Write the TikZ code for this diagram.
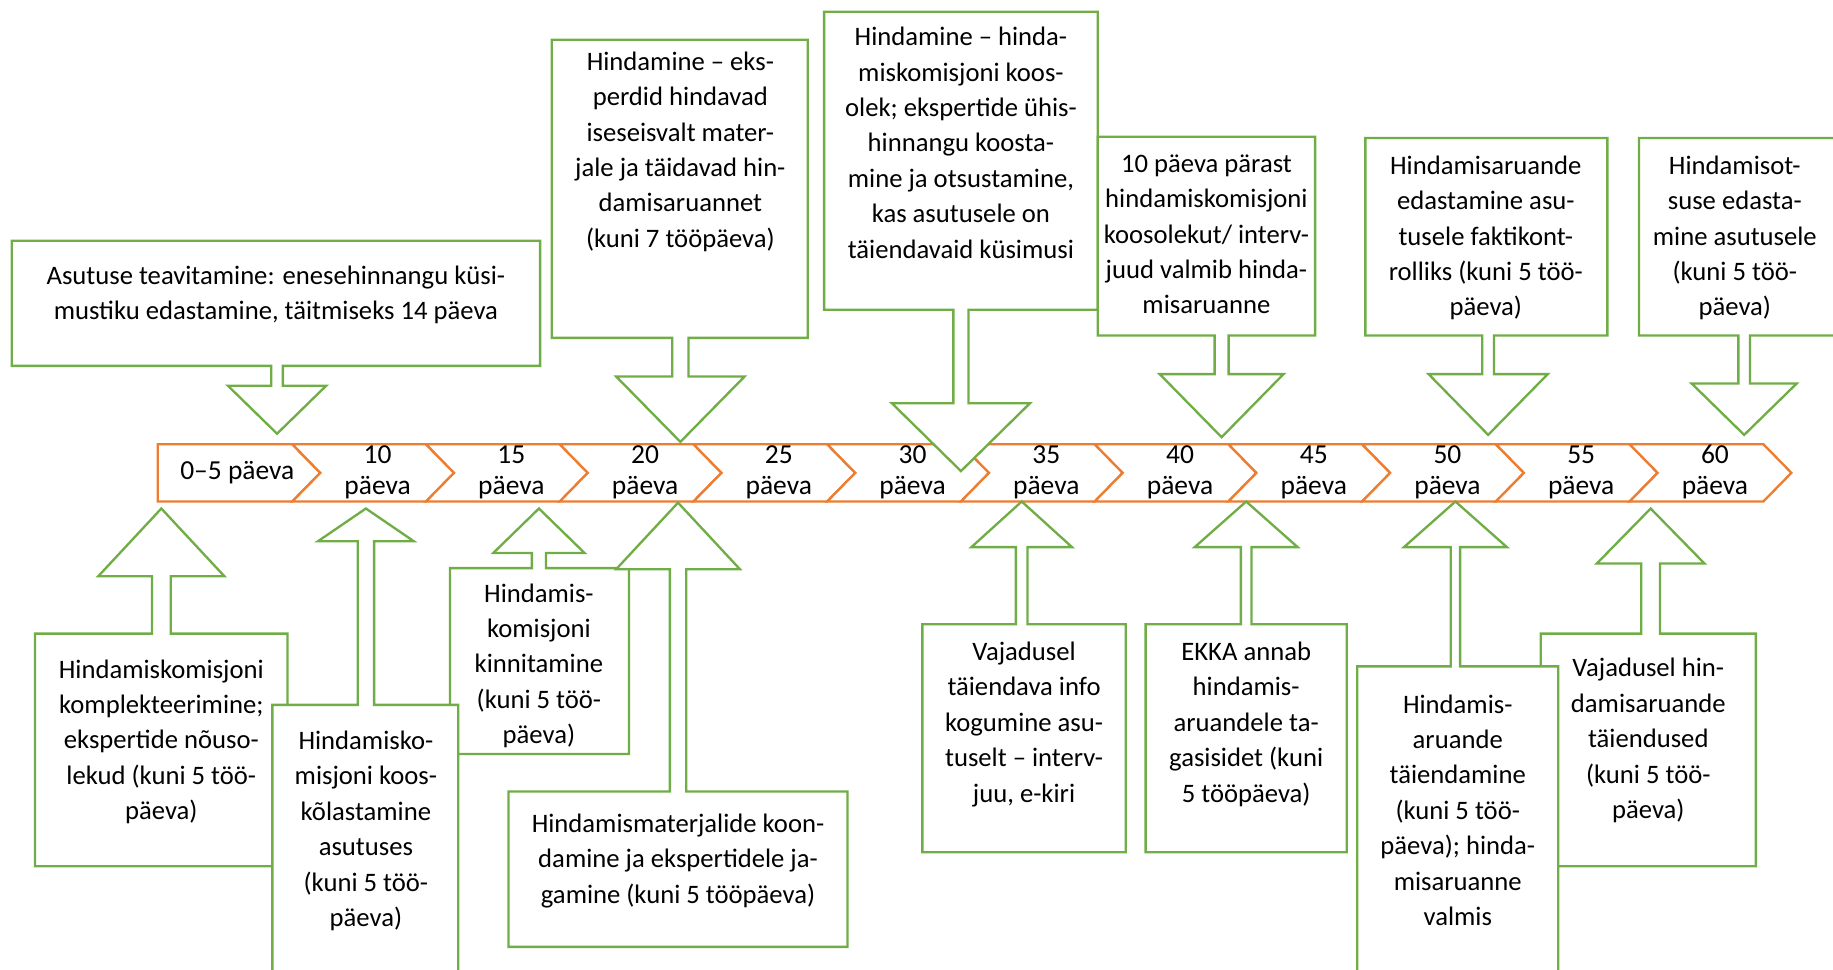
\documentclass[tikz,border=0pt]{standalone}
\usepackage{fontspec}
\setmainfont{Carlito}
\usepackage{tikz}
\usepackage{xcolor}

\definecolor{kastroheline}{HTML}{70AD47}
\definecolor{teljeoranz}{HTML}{ED7D31}

% box (x1,y1)-(x2,y2), tip (#5,#6), head base #7, stem and head half width #8, #9
\newcommand{\calldown}[9]{%
  \draw[callout] (#1,#2) -- (#3,#2) -- (#3,#4) -- ({#5+#8},#4) -- ({#5+#8},#7) -- ({#5+#9},#7)
    -- (#5,#6) -- ({#5-#9},#7) -- ({#5-#8},#7) -- ({#5-#8},#4) -- (#1,#4) -- cycle;}
\newcommand{\callup}[9]{%
  \draw[callout] (#1,#2) -- ({#5-#8},#2) -- ({#5-#8},#7) -- ({#5-#9},#7) -- (#5,#6)
    -- ({#5+#9},#7) -- ({#5+#8},#7) -- ({#5+#8},#2) -- (#3,#2) -- (#3,#4) -- (#1,#4) -- cycle;}

\tikzset{
  callout/.style={draw=kastroheline, line width=2pt, fill=white},
  chevron/.style={draw=teljeoranz, line width=2pt, fill=white},
  tekst/.style={font=\fontsize{22.8}{30.3}\selectfont, align=center, inner sep=0pt,
    anchor=north, yshift=9pt, execute at begin node=\strut},
  paev/.style={font=\fontsize{23.5}{26.5}\selectfont, align=center, inner sep=0pt},
}

\begin{document}
\begin{tikzpicture}[x=1pt, y=-1pt]
\useasboundingbox (0,0) rectangle (1568,829);
\clip (0,0) rectangle (1568,829);
%% timeline
\draw[chevron] (135,380) -- (250,380) -- (274,404.5) -- (250,429) -- (135,429) -- cycle;
\node[paev] (p5) at (203,404.5) {0--5 päeva};
\foreach \k in {1,...,11}{
  \pgfmathsetmacro{\a}{250+114.4*(\k-1)}
  \pgfmathtruncatemacro{\p}{5*\k+5}
  \draw[chevron] (\a,380) -- ({\a+114.4},380) -- ({\a+138.4},404.5) -- ({\a+114.4},429)
    -- (\a,429) -- ({\a+24},404.5) -- cycle;
  \node[paev] (p\p) at ({\a+73},404) {\p\\päeva};
}
%% callouts above
\calldown{10}{206}{462}{313}{237}{371}{330}{5}{42}
\calldown{472}{34}{691}{289}{582}{378}{322}{7}{55}
\calldown{705}{10}{939}{265}{822}{403}{345}{6.5}{59}
\calldown{939}{117}{1125}{287}{1045}{374}{320}{6}{53}
\calldown{1168}{118}{1375}{287}{1273}{372}{320}{5}{51}
\calldown{1402}{118}{1572}{287}{1492}{372}{328}{5}{45}
%% callouts below
\callup{30}{542}{246}{741}{138}{435}{493}{8}{54}
\callup{385}{486}{538}{645}{461}{435}{473}{6}{39}
\callup{233}{603}{392}{845}{313}{435}{463}{7}{41}
\callup{435}{677}{725}{810}{580}{430}{487}{7}{53}
\callup{789}{534}{963}{729}{874}{429}{468}{5}{43}
\callup{980}{534}{1152}{729}{1066}{429}{468}{4.5}{44}
\callup{1318}{542}{1502}{741}{1412}{435}{482}{8}{46}
\callup{1161}{570}{1333}{845}{1245}{429}{468}{4}{44}
%% texts
\node[tekst] (teavitamine) at (236,236) {Asutuse teavitamine: enesehinnangu küsi-\\mustiku edastamine, täitmiseks 14 päeva};
\node[tekst] (hindamine) at (582,53) {Hindamine -- eks-\\perdid hindavad\\iseseisvalt mater-\\jale ja täidavad hin-\\damisaruannet\\(kuni 7 tööpäeva)};
\node[tekst] (koosolek) at (822,32) {Hindamine -- hinda-\\miskomisjoni koos-\\olek; ekspertide ühis-\\hinnangu koosta-\\mine ja otsustamine,\\kas asutusele on\\täiendavaid küsimusi};
\node[tekst] (aruanne) at (1032,141) {10 päeva pärast\\hindamiskomisjoni\\koosolekut/ interv-\\juud valmib hinda-\\misaruanne};
\node[tekst] (faktikontroll) at (1271,142) {Hindamisaruande\\edastamine asu-\\tusele faktikont-\\rolliks (kuni 5 töö-\\päeva)};
\node[tekst] (otsus) at (1484,142) {Hindamisot-\\suse edasta-\\mine asutusele\\(kuni 5 töö-\\päeva)};
\node[tekst] (komplekteerimine) at (138,573) {Hindamiskomisjoni\\komplekteerimine;\\ekspertide nõuso-\\lekud (kuni 5 töö-\\päeva)};
\node[tekst] (kooskolastamine) at (313,634) {Hindamisko-\\misjoni koos-\\kõlastamine\\asutuses\\(kuni 5 töö-\\päeva)};
\node[tekst] (kinnitamine) at (461,508) {Hindamis-\\komisjoni\\kinnitamine\\(kuni 5 töö-\\päeva)};
\node[tekst] (materjalid) at (580,705) {Hindamismaterjalide koon-\\damine ja ekspertidele ja-\\gamine (kuni 5 tööpäeva)};
\node[tekst] (lisainfo) at (876,558) {Vajadusel\\täiendava info\\kogumine asu-\\tuselt -- interv-\\juu, e-kiri};
\node[tekst] (tagasiside) at (1066,558) {EKKA annab\\hindamis-\\aruandele ta-\\gasisidet (kuni\\5 tööpäeva)};
\node[tekst] (taiendused) at (1410,572) {Vajadusel hin-\\damisaruande\\täiendused\\(kuni 5 töö-\\päeva)};
\node[tekst] (taiendamine) at (1247,603) {Hindamis-\\aruande\\täiendamine\\(kuni 5 töö-\\päeva); hinda-\\misaruanne\\valmis};
\end{tikzpicture}
\end{document}
